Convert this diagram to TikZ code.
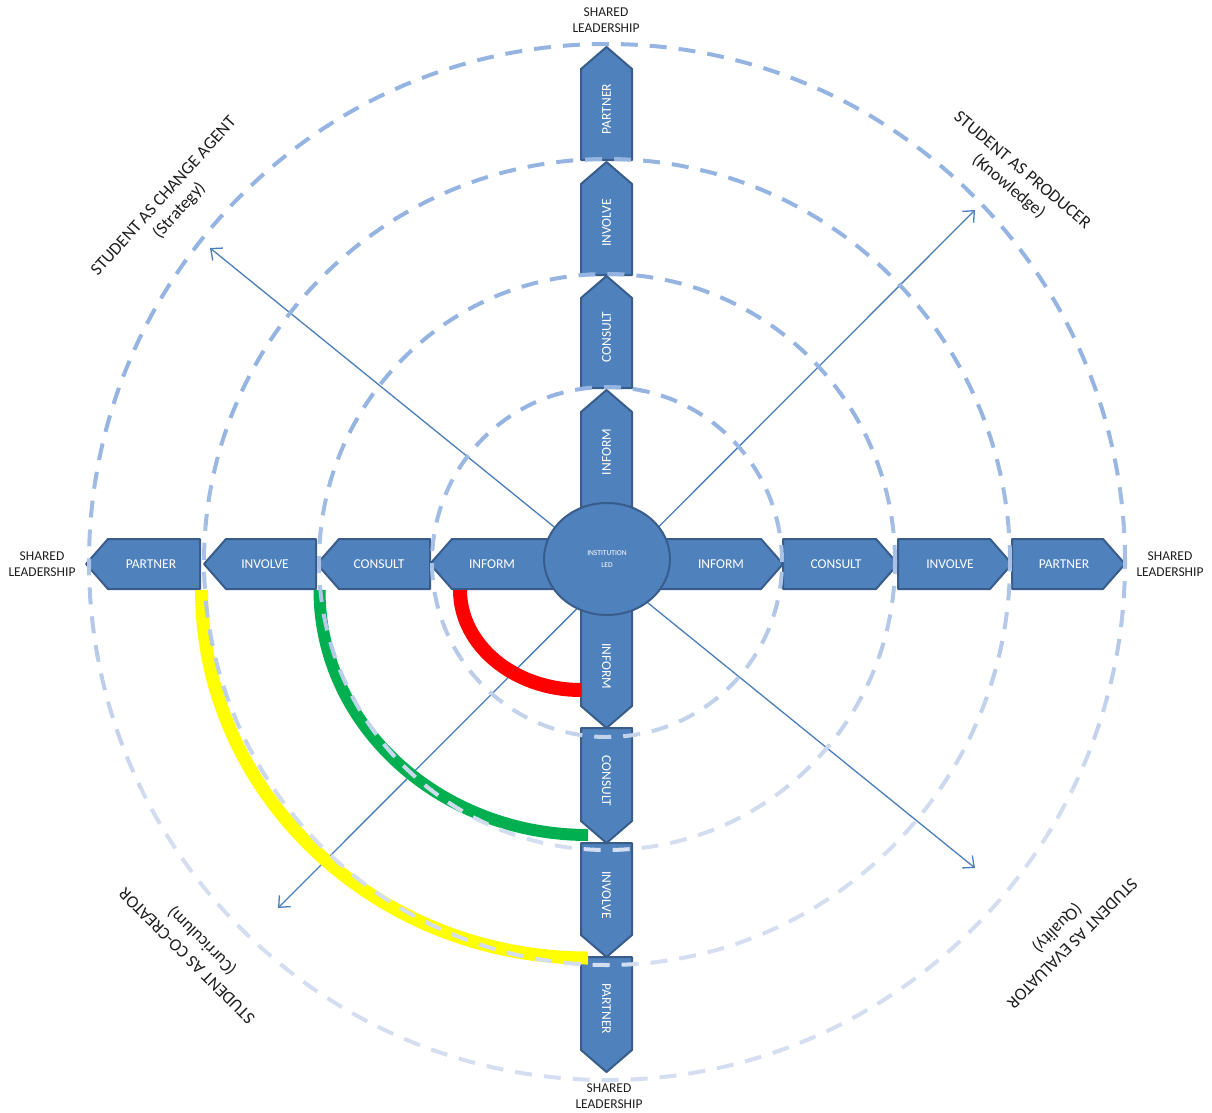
\documentclass[tikz,border=0pt]{standalone}
\usepackage{fontspec}
\setmainfont{Carlito}
\usetikzlibrary{arrows.meta,shapes.geometric}
\definecolor{boxblue}{RGB}{79,129,189}
\definecolor{boxedge}{RGB}{56,93,138}
\definecolor{ringdark}{RGB}{150,180,225}
\definecolor{ringlight}{RGB}{212,222,240}
\definecolor{linkblue}{RGB}{74,126,187}
\definecolor{labgray}{RGB}{30,30,30}
\definecolor{armgreen}{RGB}{0,176,80}
\definecolor{armyellow}{RGB}{255,255,0}
\definecolor{armred}{RGB}{255,0,0}
\tikzset{
  boxst/.style={fill=boxblue,draw=boxedge,line width=2pt,line join=round},
  boxtxt/.style={text=white,font=\fontsize{13.5}{16}\selectfont,inner sep=0pt},
  ring/.style={line width=4pt,dash pattern=on 17pt off 12pt},
  diaglink/.style={draw=linkblue,line width=1.3pt,
    {Straight Barb[length=9pt,width=16pt]}-{Straight Barb[length=9pt,width=16pt]}},
  sharedlab/.style={align=center,text=labgray,font=\fontsize{13.5}{16}\selectfont,inner sep=0pt},
  rolelab/.style={align=center,text=labgray,font=\fontsize{17.5}{21}\selectfont,inner sep=0pt},
  arm/.style={line cap=butt}
}
\newcommand\ArrRight[5]{%
  \draw[boxst] (#2,539) -- (#3-22,539) -- (#3,564) -- (#3-22,589) -- (#2,589) -- cycle;
  \node[boxtxt] (#1) at (#4,564) {#5};}
\newcommand\ArrLeft[5]{%
  \draw[boxst] (#2,539) -- (#3+22,539) -- (#3,564) -- (#3+22,589) -- (#2,589) -- cycle;
  \node[boxtxt] (#1) at (#4,564) {#5};}
\newcommand\ArrUp[5]{%
  \draw[boxst] (581,#2) -- (581,#3+22) -- (606.5,#3) -- (632,#3+22) -- (632,#2) -- cycle;
  \node[boxtxt,rotate=90] (#1) at (606.5,#4) {#5};}
\newcommand\ArrDown[5]{%
  \draw[boxst] (581,#2) -- (581,#3-22) -- (606.5,#3) -- (632,#3-22) -- (632,#2) -- cycle;
  \node[boxtxt,rotate=-90] (#1) at (606.5,#4) {#5};}
\begin{document}
\begin{tikzpicture}[x=1pt,y=-1pt]
\useasboundingbox (0,0) rectangle (1212,1113);
\coordinate (cen) at (607,562);
% diagonal links
\coordinate (ulTip) at (210,248);
\coordinate (lrTip) at (975,868);
\coordinate (urTip) at (975,210);
\coordinate (llTip) at (278,908);
\draw[diaglink] (ulTip) -- (lrTip);
\draw[diaglink] (urTip) -- (llTip);
% arms to the right
\ArrRight{rInform}{655}{783}{721}{INFORM}
\ArrRight{rConsult}{783}{898}{836}{CONSULT}
\ArrRight{rInvolve}{898}{1012}{950}{INVOLVE}
\ArrRight{rPartner}{1012}{1125}{1064}{PARTNER}
% arms to the left
\ArrLeft{lInform}{558}{430}{492}{INFORM}
\ArrLeft{lConsult}{430}{317}{379}{CONSULT}
\ArrLeft{lInvolve}{316}{204}{265}{INVOLVE}
\ArrLeft{lPartner}{200}{86}{151}{PARTNER}
% arms upward
\ArrUp{uInform}{515}{390}{452}{INFORM}
\ArrUp{uConsult}{388}{276}{337}{CONSULT}
\ArrUp{uInvolve}{275}{162}{223}{INVOLVE}
\ArrUp{uPartner}{160}{47}{109}{PARTNER}
% arms downward
\ArrDown{dInform}{603}{728}{666}{INFORM}
\ArrDown{dConsult}{728}{843}{781}{CONSULT}
\ArrDown{dInvolve}{843}{957}{895}{INVOLVE}
\ArrDown{dPartner}{957}{1072}{1009}{PARTNER}
% centre
\node[ellipse,fill=boxblue,draw=boxedge,line width=2pt,minimum width=126pt,minimum height=112pt,
  inner sep=0pt,align=center,text=white,font=\fontsize{7.5}{12}\selectfont] (inst) at (607,559) {INSTITUTION\\LED};
% coloured arcs
\draw[arm,armred,line width=14pt] (460,590) arc[start angle=180,end angle=270,x radius=121pt,y radius=100pt];
\draw[arm,armgreen,line width=12pt] (319.5,590) arc[start angle=180,end angle=270,x radius=268.5pt,y radius=245pt];
\draw[arm,armyellow,line width=13pt] (201.5,590) arc[start angle=180,end angle=270,x radius=386.5pt,y radius=368pt];
% dashed rings with vertical colour fade
\foreach \i in {0,...,23}{
  \pgfmathsetmacro\ya{40+\i*44}
  \pgfmathsetmacro\yb{\ya+44}
  \pgfmathtruncatemacro\pc{min(100,max(0,(\ya+22-430)/4))}
  \colorlet{bandcol}{ringlight!\pc!ringdark}
  \begin{scope}
    \clip (0,\ya) rectangle (1212,\yb);
    \foreach \r in {175,288,403,518}{
      \draw[ring,draw=bandcol] (cen) circle[radius=\r pt];
    }
  \end{scope}
}
% labels
\node[sharedlab] (slTop) at (606,20) {SHARED\\LEADERSHIP};
\node[sharedlab] (slLeft) at (42,564) {SHARED\\LEADERSHIP};
\node[sharedlab] (slRight) at (1170,564) {SHARED\\LEADERSHIP};
\node[sharedlab] (slBottom) at (609,1096) {SHARED\\LEADERSHIP};
\node[rolelab,rotate=48] (changeAgent) at (172,204) {STUDENT AS CHANGE AGENT\\(Strategy)};
\node[rolelab,rotate=-40] (producer) at (1015,179) {STUDENT AS PRODUCER\\(Knowledge)};
\node[rolelab,rotate=135] (coCreator) at (195,948) {STUDENT AS CO-CREATOR\\(Curriculum)};
\node[rolelab,rotate=225] (evaluator) at (1064,935) {STUDENT AS EVALUATOR\\(Quality)};
\end{tikzpicture}
\end{document}
